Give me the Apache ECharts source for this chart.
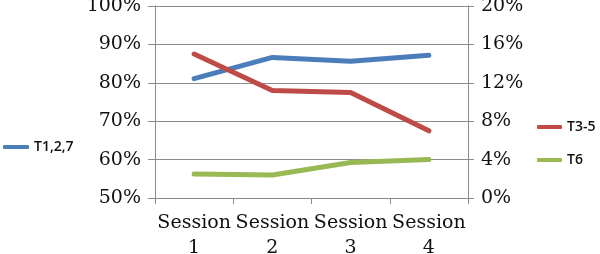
<!DOCTYPE html>
<html>
<head>
<meta charset="utf-8">
<script src="https://cdn.jsdelivr.net/npm/echarts@6/dist/echarts.min.js"></script>
<style>
html,body{margin:0;padding:0;background:#fff;}
#chart{width:600px;height:254px;}
</style>
</head>
<body>
<div id="chart"></div>
<script>
// data
var categories = ['Session\n1', 'Session\n2', 'Session\n3', 'Session\n4'];
var t127 = [81.1, 86.6, 85.6, 87.2];   // left axis, %
var t35 = [15.0, 11.2, 11.0, 7.0];     // right axis, %
var t6 = [2.5, 2.4, 3.7, 4.0];         // right axis, %
var leftTicks = [50, 100, 10];
var rightTicks = [0, 20, 4];

var myChart = echarts.init(document.getElementById('chart'));
var serif = 'DejaVu Serif';
var gray = '#8c8c8c';

function lineSeries(name, data, axisIdx, color) {
  return {
    name: name,
    type: 'line',
    yAxisIndex: axisIdx,
    data: data,
    symbol: 'none',
    lineStyle: { width: 5, color: color, cap: 'round', join: 'round' },
    itemStyle: { color: color }
  };
}

var legendText = { fontFamily: 'Open Sans', fontSize: 14, fontWeight: 600, color: '#111' };

var option = {
  animation: false,
  grid: { left: 155, right: 132, top: 6, bottom: 56, containLabel: false, outerBoundsMode: 'none' },
  legend: [{
    data: ['T1,2,7'],
    left: 3, top: 140, padding: 0,
    icon: 'roundRect', itemWidth: 26, itemHeight: 4,
    textStyle: legendText
  }, {
    data: ['T3-5', 'T6'],
    orient: 'vertical',
    left: 537, top: 120, padding: 0,
    itemGap: 19,
    icon: 'roundRect', itemWidth: 25, itemHeight: 4,
    textStyle: legendText
  }],
  xAxis: {
    type: 'category',
    data: categories,
    boundaryGap: true,
    axisLine: { lineStyle: { color: gray } },
    axisTick: { show: true, length: 6, lineStyle: { color: gray } },
    axisLabel: { margin: 13, fontFamily: serif, fontSize: 19, color: '#111', lineHeight: 25, interval: 0 }
  },
  yAxis: [{
    type: 'value',
    min: leftTicks[0], max: leftTicks[1], interval: leftTicks[2],
    axisLine: { show: true, lineStyle: { color: gray } },
    axisTick: { show: true, length: 7, lineStyle: { color: gray } },
    splitLine: { lineStyle: { color: gray } },
    axisLabel: { margin: 14, fontFamily: serif, fontSize: 19, color: '#111', formatter: '{value}%' }
  }, {
    type: 'value',
    position: 'right',
    min: rightTicks[0], max: rightTicks[1], interval: rightTicks[2],
    axisLine: { show: true, lineStyle: { color: gray } },
    axisTick: { show: true, length: 6, lineStyle: { color: gray } },
    splitLine: { show: false },
    axisLabel: { margin: 13, fontFamily: serif, fontSize: 19, color: '#111', formatter: '{value}%' }
  }],
  series: [
    lineSeries('T1,2,7', t127, 0, '#4a7ebb'),
    lineSeries('T3-5', t35, 1, '#be4b48'),
    lineSeries('T6', t6, 1, '#98b954')
  ]
};
myChart.setOption(option);
</script>
</body>
</html>
